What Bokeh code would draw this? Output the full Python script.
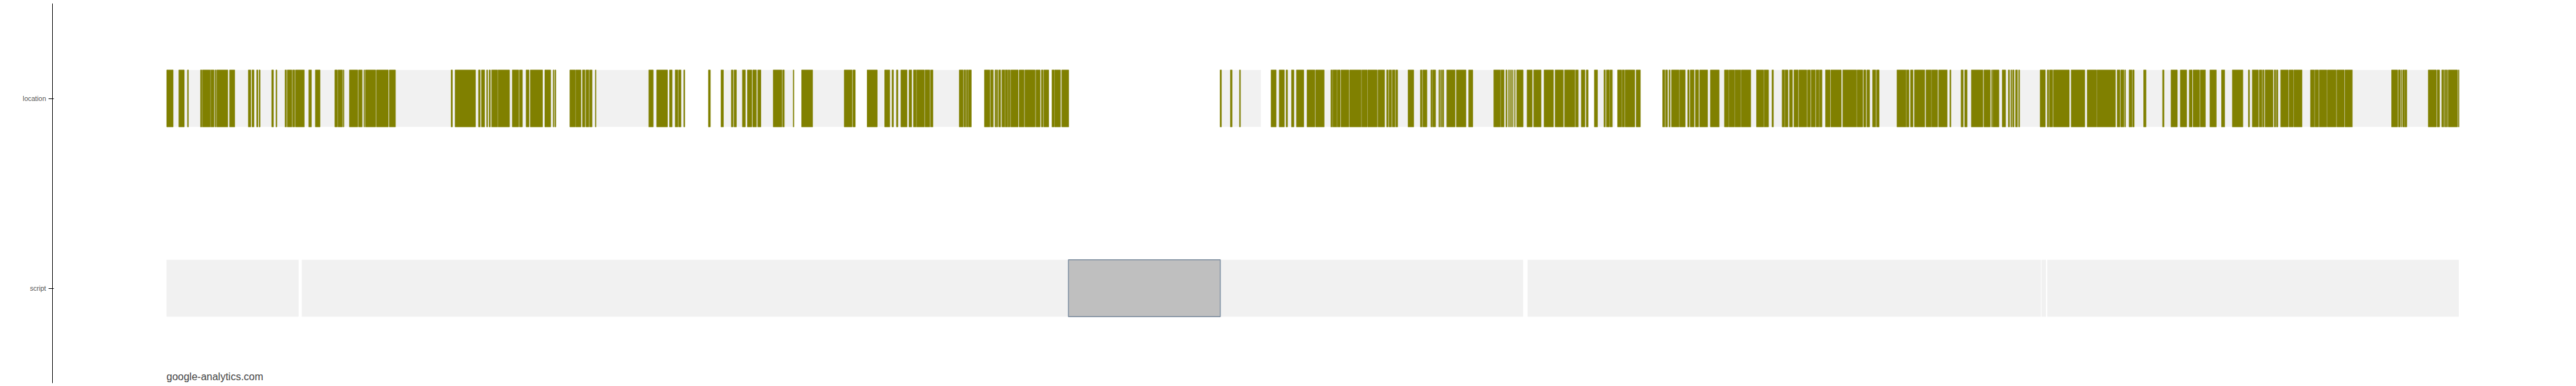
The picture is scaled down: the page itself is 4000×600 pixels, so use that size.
from bokeh.plotting import figure
from bokeh.models import FactorRange, Range1d, Label
from bokeh.embed import file_html
from bokeh.resources import INLINE

# rows
rows = ["script", "location"]

# location row: light-grey spans (request lifetime) - time units
loc_bg_start = [0, 625.7, 861.0, 986.2, 1088.0, 1270.1, 1374.9, 1636.0, 1715.2, 2217.2, 2253.2, 2323.2]
loc_bg_end = [605.4, 804.8, 974.7, 1069.6, 1249.8, 1370.0, 1401.0, 1699.4, 2207.6, 2248.6, 2288.7, 3559.5]

# location row: olive active spans
loc_start = [
    0.4, 19.2, 32.6, 52.8, 55.9, 68.9, 75.4, 78.1, 98.0, 127.1, 132.8, 140.1, 143.9, 163.4, 170.0, 184.1,
    187.6, 196.0, 200.2, 220.9, 231.2, 261.4, 266.4, 274.4, 284.0, 298.2, 306.6, 308.9, 326.1, 346.0,
    442.0, 448.2, 484.5, 489.1, 497.2, 501.0, 504.8, 514.8, 537.0, 548.1, 558.4, 564.9, 587.5,
    600.4, 603.1, 626.4, 635.6, 646.0, 651.3, 657.1, 665.9, 748.9, 761.2, 781.1, 789.9, 795.2, 803.3,
    841.5, 861.0, 877.1, 881.3, 894.3, 902.0, 910.4, 918.1, 942.2, 956.7, 973.2, 986.2, 1052.4, 1065.8,
    1088.0, 1115.2, 1126.6, 1133.5, 1140.4, 1153.0, 1159.9, 1164.9, 1177.9, 1186.3,
    1231.0, 1238.3, 1242.1, 1245.2, 1270.1, 1279.6, 1286.5, 1288.8, 1292.3, 1297.2, 1302.6, 1306.8,
    1311.0, 1324.0, 1332.8, 1350.1, 1358.5, 1362.3, 1374.9, 1379.5, 1390.2, 1636.0, 1652.0, 1666.2,
    1715.2, 1727.8, 1738.5, 1746.9, 1754.6, 1771.0, 1784.4,
    1808.1, 1811.1, 1818.0, 1823.8, 1837.2, 1855.9, 1865.5, 1881.2, 1894.6, 1898.4, 1903.4, 1908.7,
    1927.9, 1947.0, 1950.8, 1963.4, 1966.1, 1975.7, 1978.4, 1981.1, 1988.0, 2002.9, 2022.0, 2061.0,
    2072.1, 2079.8, 2084.0, 2087.1, 2090.1, 2093.2, 2096.6, 2112.7, 2123.0, 2139.1, 2156.3, 2170.9,
    2188.1, 2196.9, 2204.6, 2217.2, 2232.1, 2235.9, 2241.3, 2253.2, 2260.4, 2265.0, 2282.2, 2323.2,
    2327.8, 2333.1, 2337.0, 2349.6, 2362.2, 2366.1, 2374.1, 2380.6,
    2397.4, 2419.2, 2426.4, 2435.6, 2445.2, 2468.9, 2480.8, 2493.0, 2508.7, 2513.3, 2520.2, 2527.1,
    2534.7, 2548.1, 2553.9, 2561.5, 2566.9, 2576.1, 2584.5, 2602.9, 2625.1, 2635.4, 2640.4, 2649.2,
    2655.3, 2687.1, 2702.0, 2708.1, 2714.2, 2732.2, 2741.0, 2751.7, 2769.3, 2786.6, 2792.3, 2802.6,
    2822.1, 2834.0, 2835.9, 2850.5, 2860.0, 2863.9, 2866.6, 2871.2, 2876.1, 2909.4, 2920.5, 2924.0,
    2930.1, 2957.6, 2982.5,
    2997.7, 3029.1, 3034.5, 3040.6, 3047.5, 3053.2, 3070.1, 3099.5, 3112.6, 3127.1, 3140.9, 3147.0,
    3158.1, 3173.0, 3191.0, 3207.8, 3232.7, 3238.8, 3249.6, 3254.9, 3258.7, 3272.9, 3276.3, 3282.9,
    3295.9, 3303.5, 3329.2, 3336.1, 3342.9, 3355.2, 3370.1, 3382.7, 3455.1, 3465.8, 3469.6, 3472.3,
    3475.7, 3512.1, 3525.9, 3533.1, 3537.3, 3540.0, 3543.1, 3558.8,
]
loc_end = [
    10.4, 27.6, 34.1, 55.1, 68.2, 73.9, 77.0, 95.3, 106.0, 130.9, 135.9, 142.0, 145.5, 166.1, 171.5, 186.4,
    194.8, 199.0, 214.0, 225.1, 238.5, 265.6, 273.3, 275.6, 297.0, 303.9, 307.7, 324.9, 344.5, 355.6,
    444.0, 479.9, 487.2, 494.1, 498.7, 502.9, 514.0, 532.7, 546.9, 552.7, 563.0, 584.0, 596.6,
    601.6, 604.6, 634.9, 643.7, 649.8, 655.9, 660.9, 667.0, 755.8, 778.0, 785.3, 794.1, 799.0, 804.8,
    844.6, 864.9, 879.8, 885.1, 898.9, 908.9, 916.1, 923.0, 955.6, 959.4, 974.3, 1003.4, 1064.6, 1069.6,
    1103.7, 1123.2, 1128.9, 1135.8, 1150.0, 1157.2, 1164.1, 1176.8, 1185.2, 1190.2,
    1237.2, 1241.0, 1244.4, 1249.8, 1278.5, 1283.8, 1288.1, 1290.7, 1295.3, 1301.8, 1306.0, 1309.9,
    1322.5, 1331.7, 1348.9, 1356.6, 1361.2, 1370.0, 1378.8, 1388.3, 1401.0, 1638.2, 1654.7, 1667.7,
    1723.2, 1735.8, 1740.8, 1750.7, 1766.0, 1783.3, 1797.7,
    1810.4, 1817.3, 1822.6, 1836.0, 1855.1, 1864.7, 1880.0, 1891.5, 1897.2, 1902.2, 1907.6, 1911.8,
    1936.7, 1949.7, 1957.3, 1965.4, 1970.7, 1977.2, 1979.9, 1983.4, 2001.0, 2017.8, 2028.5, 2071.3,
    2077.1, 2081.7, 2085.5, 2088.6, 2090.9, 2094.3, 2106.6, 2120.7, 2134.5, 2153.7, 2169.0, 2186.9,
    2192.3, 2202.6, 2207.6, 2222.2, 2234.4, 2240.5, 2245.1, 2259.6, 2263.9, 2279.9, 2288.7, 2326.6,
    2330.8, 2335.0, 2348.8, 2358.4, 2364.5, 2372.2, 2379.0, 2393.1,
    2411.1, 2425.7, 2434.9, 2444.4, 2460.1, 2480.0, 2487.7, 2495.3, 2512.5, 2517.9, 2524.8, 2533.6,
    2547.0, 2552.7, 2560.4, 2566.1, 2570.7, 2583.4, 2600.6, 2624.3, 2633.9, 2638.8, 2644.6, 2654.1,
    2659.5, 2701.2, 2705.8, 2712.0, 2730.3, 2740.3, 2750.2, 2765.1, 2770.9, 2790.0, 2796.1, 2820.6,
    2832.1, 2835.2, 2845.5, 2855.8, 2861.9, 2865.4, 2868.9, 2874.2, 2877.6, 2917.5, 2922.8, 2928.9,
    2954.6, 2978.7, 2997.0,
    3026.4, 3033.3, 3039.5, 3042.1, 3052.1, 3055.5, 3073.9, 3101.8, 3122.5, 3137.0, 3145.5, 3156.9,
    3166.1, 3183.0, 3196.0, 3224.3, 3234.6, 3248.4, 3253.8, 3257.2, 3271.0, 3275.2, 3278.6, 3294.7,
    3302.7, 3316.1, 3335.3, 3341.8, 3354.4, 3369.0, 3381.6, 3394.2, 3464.6, 3468.5, 3470.7, 3475.0,
    3478.8, 3524.7, 3529.7, 3536.2, 3539.2, 3541.9, 3557.6, 3559.9,
]

# script row: light-grey spans
script_start = [0, 210.1, 1636.3, 2113.5, 2911.5, 2920.5]
script_end = [205.2, 1400.6, 2106.6, 2910.5, 2918.5, 3559.5]

# script row: highlighted (executing) span
script_exec_start = [1400.6]
script_exec_end = [1636.3]

label_text = "google-analytics.com"

p = figure(
    width=3990, height=598,
    y_range=FactorRange(factors=rows, range_padding=0),
    x_range=Range1d(-177, 3732),
    x_axis_location=None,
    output_backend="svg", toolbar_location=None,
    min_border_left=81, min_border_right=0, min_border_top=5, min_border_bottom=3,
)
p.outline_line_color = None
p.xgrid.visible = False
p.ygrid.visible = False
p.background_fill_color = "white"
p.border_fill_color = "white"

BAR_H = 0.3

p.hbar(y=["location"] * len(loc_bg_start), left=loc_bg_start, right=loc_bg_end, height=BAR_H,
       fill_color="#f1f1f1", line_color=None)
p.hbar(y=["script"] * len(script_start), left=script_start, right=script_end, height=BAR_H,
       fill_color="#f1f1f1", line_color=None)
p.hbar(y=["location"] * len(loc_start), left=loc_start, right=loc_end, height=BAR_H,
       fill_color="#808000", line_color="#808000", line_width=0.6)
p.hbar(y=["script"] * len(script_exec_start), left=script_exec_start, right=script_exec_end,
       height=BAR_H, fill_color="#bfbfbf", line_color="#7d8ea0", line_width=1.5)

ax = p.yaxis[0]
ax.axis_line_color = "black"
ax.axis_line_width = 1
ax.major_tick_line_color = "black"
ax.major_tick_out = 6
ax.major_tick_in = 2
ax.minor_tick_line_color = None
ax.major_label_standoff = 4
ax.major_label_text_font = "Liberation Sans"
ax.major_label_text_font_size = "10.5px"
ax.major_label_text_color = "#555555"

p.add_layout(Label(x=0, y=10, x_units="data", y_units="screen", text=label_text,
                   text_font="Liberation Sans", text_font_size="16px", text_color="#444444",
                   text_baseline="alphabetic", text_align="left"))

open("out.html", "w").write(file_html(p, INLINE))
